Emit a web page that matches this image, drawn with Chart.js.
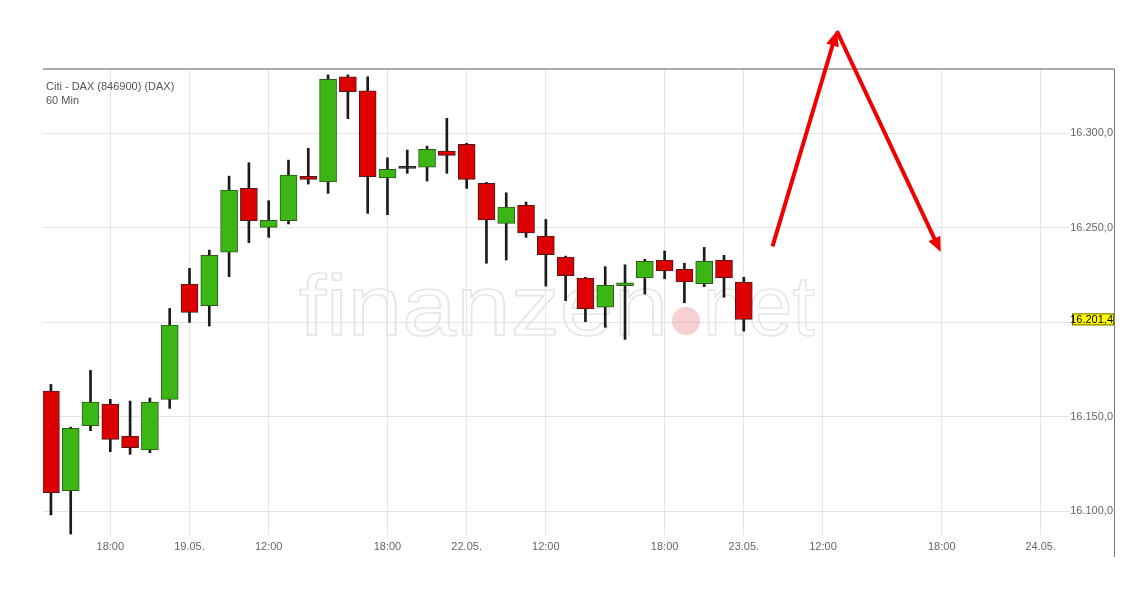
<!DOCTYPE html>
<html>
<head>
<meta charset="utf-8">
<script src="https://cdn.jsdelivr.net/npm/chart.js@4/dist/chart.umd.min.js"></script>
<style>
  html, body { margin: 0; padding: 0; background: #fff; }
</style>
</head>
<body>
<canvas id="dax" width="1131" height="595"></canvas>
<script>
// ============================================================
// Citi - DAX (846900), 60 Min candles
// 18.05. 15:00 -> 23.05. 08:00, x = hourly slot index
// ============================================================

const opens  = [16163.5, 16110.7, 16145.1, 16156.6, 16139.7, 16132.3, 16159.1,
                16220.1, 16208.6, 16237.0, 16270.7, 16250.1, 16253.6, 16277.1, 16274.1, 16329.8, 16322.4, 16276.3, 16281.3, 16281.9, 16290.5,
                16294.0, 16273.4, 16252.2, 16261.7, 16245.5, 16234.4, 16223.3, 16207.8, 16219.2, 16223.3, 16232.8, 16227.9, 16220.3, 16232.8,
                16221.2]
const highs  = [16167.0, 16144.4, 16174.4, 16159.1, 16158.2, 16159.8, 16207.2,
                16228.4, 16238.1, 16277.2, 16284.3, 16264.2, 16285.7, 16291.9, 16330.8, 16330.8, 16329.8, 16286.9, 16291.0, 16293.1, 16307.8,
                16294.6, 16273.9, 16268.4, 16263.5, 16254.3, 16234.9, 16223.7, 16229.3, 16230.3, 16233.2, 16237.6, 16231.1, 16239.5, 16235.3,
                16223.7]
const lows   = [16097.9, 16087.8, 16142.5, 16131.4, 16130.0, 16130.8, 16154.3,
                16199.8, 16197.9, 16224.0, 16242.0, 16244.8, 16251.9, 16273.0, 16268.1, 16307.6, 16257.5, 16256.8, 16278.7, 16274.6, 16278.7,
                16270.7, 16231.1, 16232.8, 16244.8, 16219.0, 16211.3, 16200.2, 16197.2, 16190.8, 16214.8, 16222.9, 16210.2, 16218.7, 16213.1,
                16195.2]
const closes = [16109.7, 16143.8, 16157.7, 16137.9, 16133.5, 16157.7, 16198.4,
                16205.1, 16235.3, 16269.8, 16253.6, 16253.8, 16277.8, 16275.5, 16328.4, 16321.9, 16276.9, 16280.8, 16281.3, 16291.4, 16288.2,
                16275.5, 16254.1, 16260.8, 16247.2, 16235.6, 16224.5, 16206.9, 16219.4, 16220.8, 16232.1, 16227.1, 16221.2, 16232.1, 16223.3,
                16201.4]

const tickIdx    = [3, 7, 11, 17, 21, 25, 31, 35, 39, 45, 50]
const tickLabels = ['18:00', '19.05.', '12:00', '18:00', '22.05.', '12:00', '18:00', '23.05.', '12:00', '18:00', '24.05.']
const yTicks     = [16100, 16150, 16200, 16250, 16300]

// hand drawn forecast arrows (slot index / index level)
const arrowX = [36.45, 39.7, 44.95]
const arrowY = [16240.0, 16354.0, 16237.0]

const RED   = '#dd0000', RED_EDGE   = '#4a1a1a'
const GREEN = '#3cb614', GREEN_EDGE = '#2a5a1c'
const DOJI  = '#222222'

function fmtDe(v) {
  const [int, dec] = v.toFixed(1).split('.')
  return int.replace(/\B(?=(\d{3})+(?!\d))/g, '.') + ',' + dec
}

const fill = closes.map((c, i) => c > opens[i] ? GREEN : c < opens[i] ? RED : DOJI)
const edge = closes.map((c, i) => c > opens[i] ? GREEN_EDGE : c < opens[i] ? RED_EDGE : DOJI)

const decor = {
  id: 'decor',
  beforeDatasetsDraw(chart) {
    // finanzen.net watermark
    const { ctx, chartArea: ca } = chart
    ctx.save()
    ctx.font = '86px "Liberation Sans", Arial, sans-serif'
    ctx.strokeStyle = '#e6e6e6'
    ctx.lineWidth = 1.6
    const base = ca.top + 266
    const w1 = ctx.measureText('finanzen').width
    ctx.save()
    ctx.translate(ca.left + 256, base)
    ctx.scale(369 / w1, 1)
    ctx.strokeText('finanzen', 0, 0)
    ctx.restore()
    const w2 = ctx.measureText('net').width
    ctx.save()
    ctx.translate(ca.left + 660, base)
    ctx.scale(112 / w2, 1)
    ctx.strokeText('net', 0, 0)
    ctx.restore()
    ctx.fillStyle = 'rgba(235, 140, 140, 0.4)'
    ctx.beginPath()
    ctx.arc(ca.left + 643, base - 14, 14, 0, Math.PI * 2)
    ctx.fill()
    ctx.restore()
  },
  afterDraw(chart) {
    const { ctx, chartArea: ca, scales: { x, y } } = chart
    ctx.save()

    // frame
    ctx.strokeStyle = '#ababab'
    ctx.lineWidth = 2
    ctx.beginPath()
    ctx.moveTo(ca.left, ca.top)
    ctx.lineTo(ca.right, ca.top)
    ctx.stroke()
    ctx.strokeStyle = '#7a7a7a'
    ctx.lineWidth = 1
    ctx.beginPath()
    ctx.moveTo(ca.right + 0.5, ca.top)
    ctx.lineTo(ca.right + 0.5, ca.bottom + 22)
    ctx.stroke()

    // title
    ctx.fillStyle = '#555'
    ctx.font = '11px Arial, "Liberation Sans", sans-serif'
    ctx.textAlign = 'left'
    ctx.textBaseline = 'alphabetic'
    ctx.fillText('Citi - DAX (846900) (DAX)', ca.left + 3, ca.top + 21)
    ctx.fillText('60 Min', ca.left + 3, ca.top + 35)

    // last price tag
    const last = closes[closes.length - 1]
    const py = y.getPixelForValue(last)
    ctx.fillStyle = '#ffff00'
    ctx.fillRect(ca.right - 42, py - 6, 42, 12)
    ctx.strokeStyle = '#6b6b00'
    ctx.strokeRect(ca.right - 41.5, py - 5.5, 41, 11)
    ctx.fillStyle = '#000'
    ctx.font = '11px Arial, "Liberation Sans", sans-serif'
    ctx.textAlign = 'right'
    ctx.textBaseline = 'middle'
    ctx.fillText(fmtDe(last), ca.right - 1, py + 0.5)

    // arrows
    ctx.strokeStyle = '#f00000'
    ctx.fillStyle = '#f00000'
    ctx.lineWidth = 4
    ctx.lineCap = 'butt'
    for (let i = 0; i < arrowX.length - 1; i++) {
      const x0 = x.getPixelForValue(arrowX[i]),     y0 = y.getPixelForValue(arrowY[i])
      const x1 = x.getPixelForValue(arrowX[i + 1]), y1 = y.getPixelForValue(arrowY[i + 1])
      const a = Math.atan2(y1 - y0, x1 - x0)
      const hl = 15, hw = 6.5
      ctx.beginPath()
      ctx.moveTo(x0, y0)
      ctx.lineTo(x1 - Math.cos(a) * (hl - 2), y1 - Math.sin(a) * (hl - 2))
      ctx.stroke()
      ctx.beginPath()
      ctx.moveTo(x1, y1)
      ctx.lineTo(x1 - Math.cos(a) * hl - Math.sin(a) * hw, y1 - Math.sin(a) * hl + Math.cos(a) * hw)
      ctx.lineTo(x1 - Math.cos(a) * hl + Math.sin(a) * hw, y1 - Math.sin(a) * hl - Math.cos(a) * hw)
      ctx.closePath()
      ctx.fill()
    }
    ctx.restore()
  }
}

new Chart(document.getElementById('dax'), {
  type: 'bar',
  data: {
    datasets: [
      {
        label: 'body',
        data: opens.map((o, i) => ({ x: i, y: [o, closes[i]] })),
        backgroundColor: fill,
        borderColor: edge,
        borderWidth: 1,
        borderSkipped: false,
        barThickness: 17,
        minBarLength: 2,
        grouped: false,
        order: 0,
      },
      {
        label: 'wick',
        data: lows.map((l, i) => ({ x: i, y: [l, highs[i]] })),
        backgroundColor: '#1b1b1b',
        borderWidth: 0,
        barThickness: 2,
        grouped: false,
        order: 1,
      },
    ]
  },
  options: {
    responsive: false,
    animation: false,
    devicePixelRatio: 1,
    layout: { padding: { left: 43, top: 69, right: 0, bottom: 0 } },
    plugins: { legend: { display: false }, tooltip: { enabled: false } },
    scales: {
      x: {
        type: 'linear',
        min: -0.4, max: 53.7,
        offset: false,
        afterBuildTicks: s => { s.ticks = tickIdx.map(v => ({ value: v })) },
        afterFit: s => { s.height = 60 },
        grid: { color: '#e4e4e4', drawTicks: false, offset: false },
        border: { display: false },
        ticks: {
          autoSkip: false, maxRotation: 0, padding: 5,
          color: '#666', font: { family: 'Arial, "Liberation Sans", sans-serif', size: 11 },
          callback: (v, i) => tickLabels[i],
        },
      },
      y: {
        position: 'right',
        min: 16087.3, max: 16333.9,
        afterBuildTicks: s => { s.ticks = yTicks.map(v => ({ value: v })) },
        afterFit: s => { s.width = 17 },
        grid: { color: '#e4e4e4', drawTicks: false },
        border: { display: false },
        ticks: {
          mirror: true, padding: -1,
          color: '#666', font: { family: 'Arial, "Liberation Sans", sans-serif', size: 11 },
          showLabelBackdrop: true, backdropColor: '#fff', backdropPadding: { x: 1, y: 0 },
          callback: v => v === 16200 ? '' : fmtDe(v),
        },
      },
    },
  },
  plugins: [decor],
})
</script>
</body>
</html>
